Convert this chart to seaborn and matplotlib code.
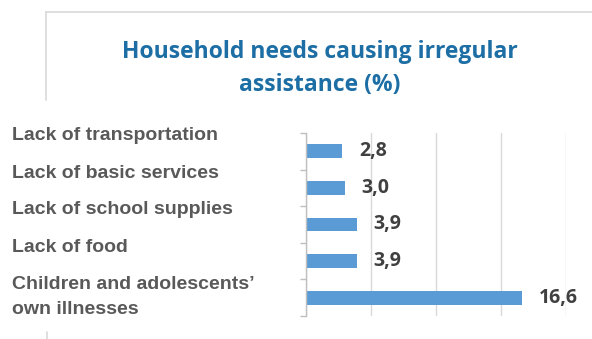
import matplotlib
matplotlib.use("Agg")
import matplotlib.pyplot as plt
from matplotlib.lines import Line2D
import seaborn as sns
import pandas as pd

categories = [
    "Lack of transportation",
    "Lack of basic services",
    "Lack of school supplies",
    "Lack of food",
    "Children and adolescents’\nown illnesses",
]
values = [2.8, 3.0, 3.9, 3.9, 16.6]
value_labels = ["2,8", "3,0", "3,9", "3,9", "16,6"]
x_ticks = [0, 5, 10, 15, 20]
title = "Household needs causing irregular\nassistance (%)"

sns.set_theme(style="white")
plt.rcParams["font.family"] = ["Liberation Sans", "DejaVu Sans"]

BAR = "#5B9BD5"
GRID = "#D9D9D9"
AXIS = "#BFBFBF"
LABEL = "#595959"
VALUE = "#404040"
TITLE = "#1C6EA4"
HEAD_FONT = ["Open Sans", "DejaVu Sans"]

W, H, DPI = 592, 339, 100
fig = plt.figure(figsize=(W / DPI, H / DPI), dpi=DPI)
fig.patch.set_facecolor("white")

# plot area in pixel coordinates
left, right, top, bottom = 306, 566, 133, 316
ax = fig.add_axes([left / W, 1 - bottom / H, (right - left) / W, (bottom - top) / H])

df = pd.DataFrame({"category": categories, "value": values})
sns.barplot(data=df, x="value", y="category", orient="h", color=BAR,
            width=0.38, saturation=1, ax=ax, linewidth=0)

ax.set_xlim(x_ticks[0], x_ticks[-1])
ax.set_ylim(len(categories) - 0.5, -0.5)
ax.set_xticks(x_ticks)
ax.set_xticklabels([])
ax.set_yticks([i - 0.5 for i in range(len(categories) + 1)])
ax.set_yticklabels([])
ax.set_xlabel("")
ax.set_ylabel("")
ax.grid(axis="x", color=GRID, linewidth=1)
ax.set_axisbelow(True)
for s in ["top", "right", "bottom"]:
    ax.spines[s].set_visible(False)
ax.spines["left"].set_color(AXIS)
ax.spines["left"].set_linewidth(1)
ax.tick_params(axis="y", left=True, length=4, width=1, color=AXIS, direction="out")
ax.tick_params(axis="x", bottom=False)

# value labels at the bar ends
for i, (v, lab) in enumerate(zip(values, value_labels)):
    ax.annotate(lab, xy=(v, i), xytext=(12, 0), textcoords="offset points",
                ha="left", va="center", fontsize=14, fontweight="bold",
                color=VALUE, family=HEAD_FONT)

# category labels on the left
label_y = [136, 173, 210, 247, 297]
for lab, y in zip(categories, label_y):
    fig.text(12 / W, 1 - y / H, lab, ha="left", va="center", fontsize=14,
             fontweight="bold", color=LABEL, linespacing=1.65)

fig.text(320 / W, 1 - 68 / H, title, ha="center", va="center", fontsize=16.5,
         fontweight="bold", color=TITLE, family=HEAD_FONT, linespacing=1.5)

# frame lines of the chart area
fig.add_artist(Line2D([46 / W, 1], [1 - 12 / H, 1 - 12 / H], color=GRID, lw=1.2))
fig.add_artist(Line2D([46 / W, 46 / W], [1 - 12 / H, 1 - 100 / H], color=GRID, lw=1.2))
fig.add_artist(Line2D([47 / W, 47 / W], [1 - 332 / H, 0], color=GRID, lw=1.2))

fig.savefig("out.png", dpi=DPI, facecolor="white")
